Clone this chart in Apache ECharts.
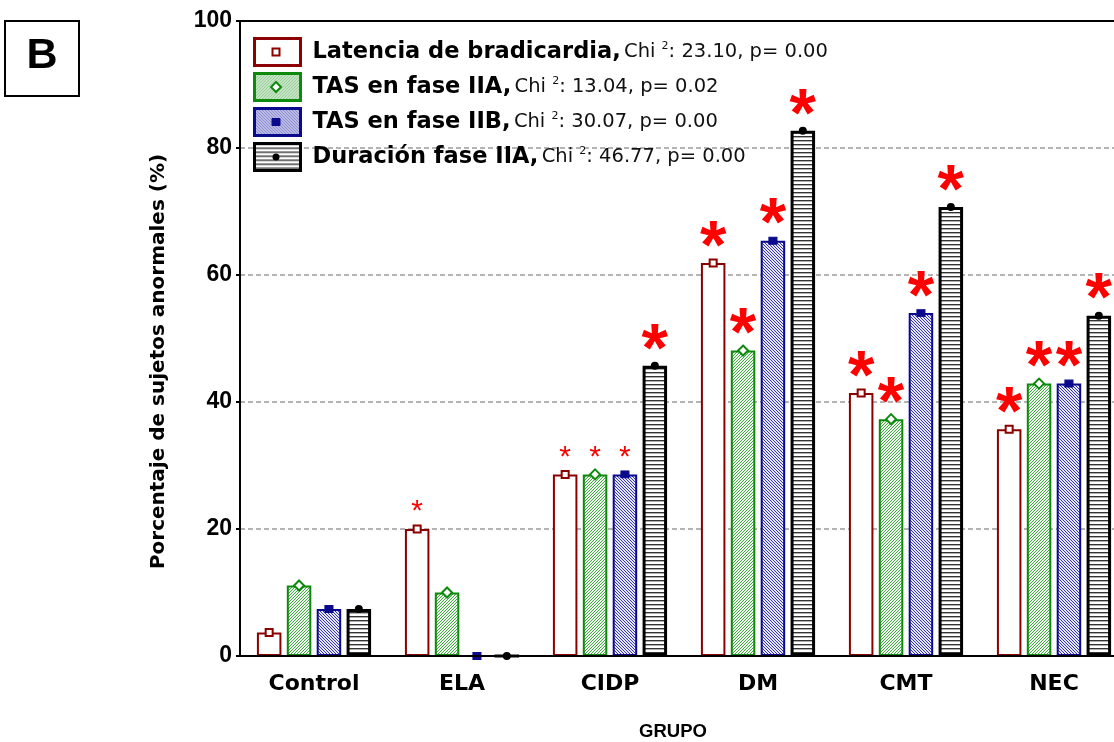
<!DOCTYPE html>
<html>
<head>
<meta charset="utf-8">
<script src="https://cdn.jsdelivr.net/npm/echarts@6/dist/echarts.min.js"></script>
<style>
  html, body { margin: 0; padding: 0; background: #fff; }
  #chart { width: 1114px; height: 742px; }
</style>
</head>
<body>
<div id="chart"></div>
<script>
// Groups and measured percentages
const groups = ['Control', 'ELA', 'CIDP', 'DM', 'CMT', 'NEC'];
const seriesNames = ['Latencia de bradicardia', 'TAS en fase IIA', 'TAS en fase IIB', 'Duración fase IIA'];
const chiValues = ['23.10', '13.04', '30.07', '46.77'];
const pValues = ['0.00', '0.02', '0.00', '0.00'];

const latencia = [3.7, 20.0, 28.6, 61.9, 41.4, 35.7];
const tasIIA   = [11.1, 10.0, 28.6, 48.1, 37.3, 42.9];
const tasIIB   = [7.4, 0, 28.6, 65.4, 54.0, 42.9];
const duracion = [7.4, 0, 45.7, 82.7, 70.7, 53.6];

// Significance marks: 0 = none, 1 = small asterisk, 2 = large asterisk
const sigLatencia = [0, 1, 1, 2, 2, 2];
const sigTasIIA   = [0, 0, 1, 2, 2, 2];
const sigTasIIB   = [0, 0, 1, 2, 2, 2];
const sigDuracion = [0, 0, 2, 2, 2, 2];

const yTicks = [0, 20, 40, 60, 80, 100];

const FONT = '"Liberation Sans", Arial, sans-serif';
const WIDE = '"DejaVu Sans", "Liberation Sans", sans-serif';
const RED = '#8c0000', GREEN = '#0d8a0d', BLUE = '#0a0a8c', BLACK = '#000000';

// Fill patterns for the bars
function pattern(w, h, bg, draw) {
  const c = document.createElement('canvas');
  c.width = w; c.height = h;
  const g = c.getContext('2d');
  g.fillStyle = bg; g.fillRect(0, 0, w, h);
  draw(g);
  return { image: c, repeat: 'repeat' };
}
const fillWhite = '#ffffff';
const fillGreen = pattern(3, 3, '#f0f9f0', g => {
  g.fillStyle = '#45a545';
  for (let i = 0; i < 3; i++) g.fillRect(i, 2 - i, 1, 1);
});
const fillBlue = pattern(3, 3, '#e6e6f6', g => {
  g.fillStyle = '#3636b0';
  for (let i = 0; i < 3; i++) g.fillRect(i, i, 1, 1);
});
const fillBlack = pattern(1, 4, '#ffffff', g => {
  g.fillStyle = '#333333'; g.fillRect(0, 0, 1, 1);
  g.fillStyle = '#b0b0b0'; g.fillRect(0, 1, 1, 1);
});

function starLabel(level) {
  if (!level) return { show: false };
  if (level === 2) {
    return { show: true, position: 'top', formatter: '*', color: '#ff0000',
      fontFamily: FONT, fontWeight: 'bold', fontSize: 68, lineHeight: 40, distance: -6 };
  }
  return { show: true, position: 'top', formatter: '*', color: '#ff0000',
    fontFamily: FONT, fontWeight: 'normal', fontSize: 30, lineHeight: 20, distance: 7 };
}

function barSeries(name, values, sig, fill, border, bw, mark) {
  return {
    name: name,
    type: 'bar',
    barWidth: 24.5,
    barGap: '22%',
    itemStyle: { color: fill, borderColor: border, borderWidth: bw },
    data: values.map((v, i) => ({ value: v, label: starLabel(sig[i]) })),
    markPoint: {
      symbol: mark.symbol,
      symbolSize: mark.size,
      itemStyle: mark.style,
      label: { show: false },
      silent: true,
      data: values.map((v, i) => ({ coord: [groups[i], v] }))
    },
    z: 2
  };
}

const chart = echarts.init(document.getElementById('chart'), null, { renderer: 'canvas' });

// Legend geometry (each legend row is 30px tall because of its text)
const LEG_LEFT = 253, LEG_TOP = 37, LEG_W = 46, LEG_H = 27, LEG_GAP = 5, LEG_ROW = 30;
const legMarks = [
  { type: 'rect', shape: { x: -3.5, y: -3.5, width: 7, height: 7 }, style: { fill: '#fff', stroke: RED, lineWidth: 2 } },
  { type: 'polygon', shape: { points: [[0, -5], [5, 0], [0, 5], [-5, 0]] }, style: { fill: '#fff', stroke: GREEN, lineWidth: 2 } },
  { type: 'rect', shape: { x: -4, y: -3.5, width: 8, height: 7 }, style: { fill: BLUE, stroke: BLUE, lineWidth: 1 } },
  { type: 'circle', shape: { cx: 0, cy: 0, r: 3.5 }, style: { fill: BLACK } }
];

const option = {
  backgroundColor: '#ffffff',
  animation: false,
  grid: {
    left: 240, top: 21, width: 888, height: 635,
    outerBoundsMode: 'none', containLabel: false,
    show: false
  },
  legend: {
    orient: 'vertical',
    left: LEG_LEFT, top: LEG_TOP, padding: 0,
    itemWidth: LEG_W, itemHeight: LEG_H, itemGap: LEG_GAP,
    icon: 'rect',
    data: seriesNames,
    itemStyle: { borderWidth: 3 },
    selectedMode: false,
    formatter: function (name) {
      const i = seriesNames.indexOf(name);
      return '{b|' + name + ',} {n|Chi }{s|2}{n|: ' + chiValues[i] + ', p= ' + pValues[i] + '}';
    },
    textStyle: {
      padding: [0, 0, 0, 7],
      rich: {
        b: { fontFamily: WIDE, fontWeight: 'bold', fontSize: 22.5, color: '#000', lineHeight: 22 },
        n: { fontFamily: WIDE, fontSize: 19.5, color: '#111', lineHeight: 22 },
        s: { fontFamily: WIDE, fontSize: 11, color: '#111', lineHeight: 22, verticalAlign: 'top' }
      }
    }
  },
  xAxis: [{
    type: 'category',
    data: groups,
    z: 10,
    axisLine: { show: true, lineStyle: { color: '#000', width: 2 } },
    axisTick: { show: false },
    axisLabel: { color: '#000', fontFamily: WIDE, fontWeight: 'bold', fontSize: 22, margin: 17 },
    name: 'GRUPO',
    nameLocation: 'middle',
    nameGap: 66,
    nameTextStyle: { color: '#000', fontFamily: FONT, fontWeight: 'bold', fontSize: 18.5, padding: [0, 22, 0, 0] },
    splitLine: { show: false }
  }, {
    // frame line along the top of the plot
    type: 'category',
    data: groups,
    position: 'top',
    z: 10,
    axisLine: { show: true, lineStyle: { color: '#000', width: 2 } },
    axisTick: { show: false },
    axisLabel: { show: false },
    splitLine: { show: false }
  }],
  yAxis: {
    type: 'value',
    min: yTicks[0], max: yTicks[yTicks.length - 1], interval: yTicks[1] - yTicks[0],
    axisLine: { show: true, lineStyle: { color: '#000', width: 2 } },
    axisTick: { show: true, length: 4, lineStyle: { color: '#000', width: 2 } },
    axisLabel: { color: '#000', fontFamily: FONT, fontWeight: 'bold', fontSize: 23, margin: 8 },
    splitLine: { show: true, lineStyle: { color: '#b4b4b4', width: 2, type: [5, 3] } },
    name: 'Porcentaje de sujetos anormales (%)',
    nameLocation: 'middle',
    nameGap: 71,
    nameRotate: 90,
    nameTextStyle: { color: '#000', fontFamily: WIDE, fontWeight: 'bold', fontSize: 20, padding: [0, 46, 0, 0] }
  },
  series: [
    barSeries(seriesNames[0], latencia, sigLatencia, fillWhite, RED, 2,
      { symbol: 'rect', size: 7, style: { color: '#fff', borderColor: RED, borderWidth: 2 } }),
    barSeries(seriesNames[1], tasIIA, sigTasIIA, fillGreen, GREEN, 2,
      { symbol: 'diamond', size: 10, style: { color: '#fff', borderColor: GREEN, borderWidth: 2 } }),
    barSeries(seriesNames[2], tasIIB, sigTasIIB, fillBlue, BLUE, 2,
      { symbol: 'rect', size: [8, 7], style: { color: BLUE, borderColor: BLUE, borderWidth: 1 } }),
    barSeries(seriesNames[3], duracion, sigDuracion, fillBlack, BLACK, 3,
      { symbol: 'circle', size: 8, style: { color: BLACK } })
  ],
  graphic: [
    { type: 'rect', shape: { x: 5, y: 21, width: 74, height: 75 },
      style: { fill: '#fff', stroke: '#000', lineWidth: 2 }, z: 10 },
    { type: 'text', x: 42, y: 56, z: 11,
      style: { text: 'B', fontFamily: FONT, fontWeight: 'bold', fontSize: 43, fill: '#000',
        textAlign: 'center', textVerticalAlign: 'middle' } }
  ].concat(legMarks.map((m, k) => Object.assign({}, m, {
    x: LEG_LEFT + LEG_W / 2,
    y: LEG_TOP + LEG_ROW / 2 + k * (LEG_ROW + LEG_GAP),
    z: 100
  })))
};

chart.setOption(option);
</script>
</body>
</html>
